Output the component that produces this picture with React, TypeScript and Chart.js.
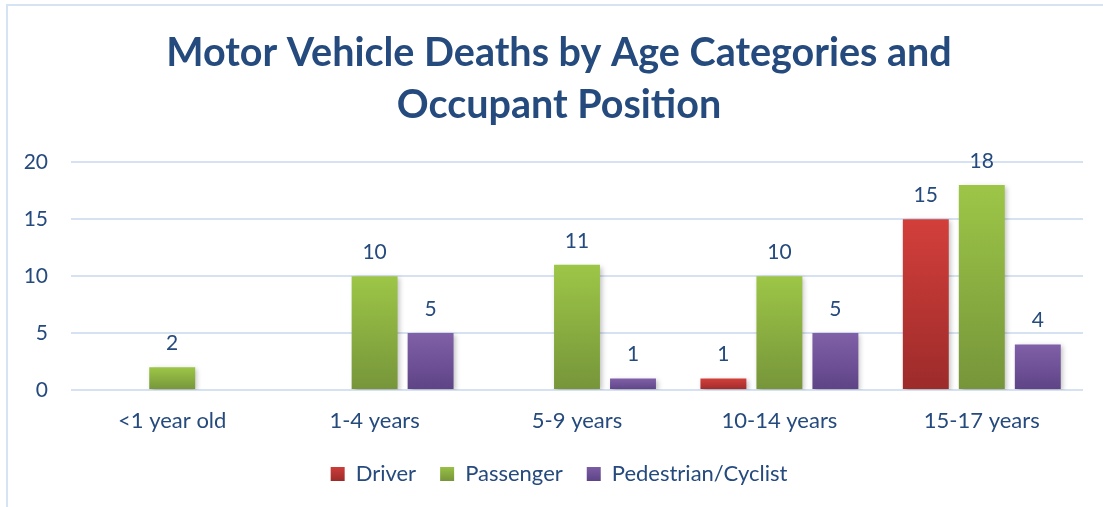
import React, { useEffect, useRef } from "react";
import { Chart, registerables } from "chart.js";

Chart.register(...registerables);

const categories = ["<1 year old", "1-4 years", "5-9 years", "10-14 years", "15-17 years"];
const driver = [0, 0, 0, 1, 15];
const passenger = [2, 10, 11, 10, 18];
const pedestrian = [0, 5, 1, 5, 4];
const yTicks = [0, 5, 10, 15, 20];
const titleLines = ["Motor Vehicle Deaths by Age Categories and", "Occupant Position"];

const TEXT = "#254A7D";
const FONT = "Lato, 'Open Sans', sans-serif";

const gradients: Record<string, [string, string]> = {
  Driver: ["#D33F3B", "#9C2B2A"],
  Passenger: ["#9DC647", "#76953A"],
  "Pedestrian/Cyclist": ["#8060A8", "#5E4386"],
};

function gradFill(name: string) {
  return (ctx: any) => {
    const chart = ctx.chart;
    const [top, bot] = gradients[name];
    const ys = chart.scales && chart.scales.y;
    if (!chart.chartArea || !ys || ctx.type !== "data") return top;
    const v = ctx.raw as number;
    const y0 = ys.getPixelForValue(v);
    const y1 = ys.getPixelForValue(0);
    if (!isFinite(y0) || !isFinite(y1) || y1 - y0 < 1) return top;
    const g = chart.ctx.createLinearGradient(0, y0, 0, y1);
    g.addColorStop(0, top);
    g.addColorStop(1, bot);
    return g;
  };
}

const valueLabels = {
  id: "valueLabels",
  afterDatasetsDraw(chart: any) {
    const ctx = chart.ctx;
    ctx.save();
    ctx.font = `21px ${FONT}`;
    ctx.fillStyle = TEXT;
    ctx.textAlign = "center";
    ctx.textBaseline = "middle";
    chart.data.datasets.forEach((ds: any, i: number) => {
      const meta = chart.getDatasetMeta(i);
      meta.data.forEach((el: any, j: number) => {
        const v = ds.data[j];
        if (!v) return;
        ctx.fillText(String(v), el.x, el.y - 24);
      });
    });
    ctx.restore();
  },
};

const barShadow = {
  id: "barShadow",
  beforeDatasetsDraw(chart: any) {
    chart.ctx.save();
    chart.ctx.shadowColor = "rgba(0,0,0,0.25)";
    chart.ctx.shadowBlur = 5;
    chart.ctx.shadowOffsetX = 2;
    chart.ctx.shadowOffsetY = 2;
  },
  afterDatasetsDraw(chart: any) {
    chart.ctx.restore();
  },
};

// widen the y-axis label clip box to the canvas edge so labels are not cut off
const unclipY = {
  id: "unclipY",
  afterLayout(chart: any) {
    const y = chart.scales.y;
    if (y) y.left = 0;
  },
};

export default function App() {
  const ref = useRef<HTMLCanvasElement>(null);
  useEffect(() => {
    if (!ref.current) return;
    const mk = (label: string, data: number[]) => ({
      label,
      data,
      backgroundColor: gradFill(label),
      borderWidth: 0,
      categoryPercentage: 0.83,
      barPercentage: 0.82,
    });
    const chart = new Chart(ref.current, {
      type: "bar",
      data: {
        labels: categories,
        datasets: [mk("Driver", driver), mk("Passenger", passenger), mk("Pedestrian/Cyclist", pedestrian)],
      },
      plugins: [unclipY, barShadow, valueLabels],
      options: {
        animation: false,
        responsive: false,
        maintainAspectRatio: false,
        layout: { padding: { left: 35, right: 20, top: 0, bottom: 12 } },
        plugins: {
          title: {
            display: true,
            text: titleLines,
            color: TEXT,
            font: { family: FONT, size: 39.5, weight: "bold", lineHeight: 1.32 },
            padding: { top: 27, bottom: 31 },
          },
          legend: {
            position: "bottom",
            labels: {
              color: TEXT,
              font: { family: FONT, size: 22 },
              boxWidth: 14,
              boxHeight: 14,
              padding: 24,
              generateLabels: (chart: any) =>
                chart.data.datasets.map((ds: any, i: number) => {
                  const [top, bot] = gradients[ds.label];
                  const c = chart.ctx.createLinearGradient(0, 465, 0, 481);
                  c.addColorStop(0, top);
                  c.addColorStop(1, bot);
                  return {
                    text: ds.label,
                    fillStyle: c,
                    strokeStyle: "rgba(0,0,0,0)",
                    lineWidth: 0,
                    fontColor: TEXT,
                    datasetIndex: i,
                    hidden: false,
                  };
                }),
            },
          },
          tooltip: { enabled: false },
        },
        scales: {
          x: {
            grid: { display: false, drawTicks: false },
            border: { display: false },
            ticks: { color: TEXT, font: { family: FONT, size: 22 }, padding: 18 },
            afterFit: (s: any) => {
              s.height = 49;
            },
          },
          y: {
            min: 0,
            max: 20,
            afterBuildTicks: (s: any) => {
              s.ticks = yTicks.map((v) => ({ value: v }));
            },
            grid: { color: "#D6E2F1", lineWidth: 2, drawTicks: false },
            border: { display: false },
            ticks: { color: TEXT, font: { family: FONT, size: 21 }, padding: 23 },
            afterFit: (s: any) => {
              s.width = 36;
            },
          },
        },
      },
    });
    return () => chart.destroy();
  }, []);
  return (
    <div style={{ position: "absolute", left: 0, top: 0, width: 1103, height: 507, overflow: "hidden", background: "#fff" }}>
      <div
        style={{
          position: "absolute",
          left: 6,
          top: 4,
          width: 1200,
          height: 700,
          border: "2px solid #D6E3F3",
          boxSizing: "border-box",
        }}
      />
      <canvas ref={ref} width={1103} height={507} style={{ position: "absolute", left: 0, top: 0 }} />
    </div>
  );
}
